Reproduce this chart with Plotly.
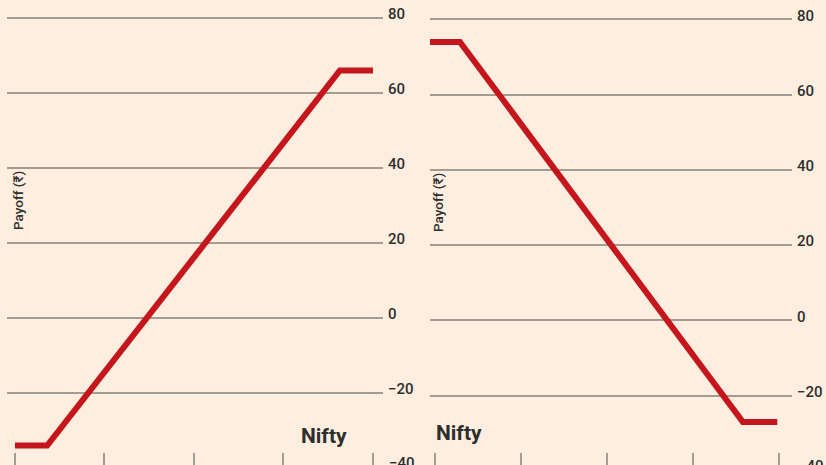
import plotly.graph_objects as go

# ---- data ----
tick_positions = [0, 1, 2, 3, 4]              # Nifty axis ticks (unlabelled)
payoff_ticks = [80, 60, 40, 20, 0, -20, -40]  # payoff tick labels

left_x = [0, 0.36, 3.63, 4.0]
left_y = [-34, -34, 66, 66]

right_x = [-0.08, 0.29, 3.58, 3.98]
right_y = [74, 74, -27, -27]

# ---- style ----
W, H = 826, 465
BG = "#FDEEDF"
RED = "#C4161C"
GRID = "#A39C92"
TXT = "#2E2E2E"
FONT = "Roboto"

L_YR = [-39.2, 84.8]
R_YR = [-38.42, 85.18]
L_XD = [7 / W, 383 / W]
R_XD = [430 / W, 792 / W]

fig = go.Figure()
fig.add_trace(go.Scatter(x=left_x, y=left_y, mode="lines", xaxis="x", yaxis="y",
                         line=dict(color=RED, width=6), cliponaxis=False,
                         showlegend=False, hoverinfo="skip"))
fig.add_trace(go.Scatter(x=right_x, y=right_y, mode="lines", xaxis="x2", yaxis="y2",
                         line=dict(color=RED, width=6), cliponaxis=False,
                         showlegend=False, hoverinfo="skip"))

shown = [v for v in payoff_ticks if v > -40]
xcommon = dict(tickvals=tick_positions, ticks="inside", ticklen=12, tickwidth=1.5,
               tickcolor=GRID, showticklabels=False, showgrid=False,
               zeroline=False, showline=False, fixedrange=True)
ycommon = dict(tickvals=shown, side="right", showgrid=True, gridcolor=GRID,
               gridwidth=1.5, zeroline=False, showline=False, ticks="",
               tickfont=dict(family=FONT, size=15, color=TXT, weight=500),
               ticklabelstandoff=4, ticklabelshift=-4, fixedrange=True)

fig.update_layout(
    width=W, height=H,
    margin=dict(l=0, r=0, t=0, b=0),
    paper_bgcolor=BG, plot_bgcolor=BG,
    xaxis=dict(domain=L_XD, range=[-0.089, 4.112], anchor="y", **xcommon),
    yaxis=dict(domain=[0, 1], range=L_YR, anchor="x", **ycommon),
    xaxis2=dict(domain=R_XD, range=[-0.058, 4.151], anchor="y2", **xcommon),
    yaxis2=dict(domain=[0, 1], range=R_YR, anchor="x2", **ycommon),
)

def frac(v, r):
    return (v - r[0]) / (r[1] - r[0])

ann = []
# partial -40 labels at bottom edge
for xd, yr in ((L_XD, L_YR), (R_XD, R_YR)):
    ann.append(dict(text="\u2212" + str(abs(payoff_ticks[-1])), xref="paper", yref="paper",
                    x=xd[1], y=frac(payoff_ticks[-1], yr), xanchor="left", yanchor="middle",
                    xshift=4, yshift=5, showarrow=False,
                    font=dict(family=FONT, size=15, color=TXT, weight=500)))
# Nifty labels
ann.append(dict(text="<b>Nifty</b>", xref="paper", yref="paper", x=299 / W, y=1 - 436 / H,
                xanchor="left", yanchor="middle", showarrow=False,
                font=dict(family=FONT, size=21, color=TXT)))
ann.append(dict(text="<b>Nifty</b>", xref="paper", yref="paper", x=434 / W, y=1 - 433 / H,
                xanchor="left", yanchor="middle", showarrow=False,
                font=dict(family=FONT, size=21, color=TXT)))
# Payoff axis titles
ann.append(dict(text="Payoff (\u20b9)", xref="paper", yref="paper", x=18 / W, y=1 - 201 / H,
                textangle=-90, xanchor="center", yanchor="middle", showarrow=False,
                font=dict(family=FONT, size=13.5, color=TXT, weight=500)))
ann.append(dict(text="Payoff (\u20b9)", xref="paper", yref="paper", x=438 / W, y=1 - 203 / H,
                textangle=-90, xanchor="center", yanchor="middle", showarrow=False,
                font=dict(family=FONT, size=13.5, color=TXT, weight=500)))
fig.update_layout(annotations=ann)

fig.write_html("out.html", config=dict(displayModeBar=False),
               post_script="document.body.style.margin='0';document.body.style.overflow='hidden';")
